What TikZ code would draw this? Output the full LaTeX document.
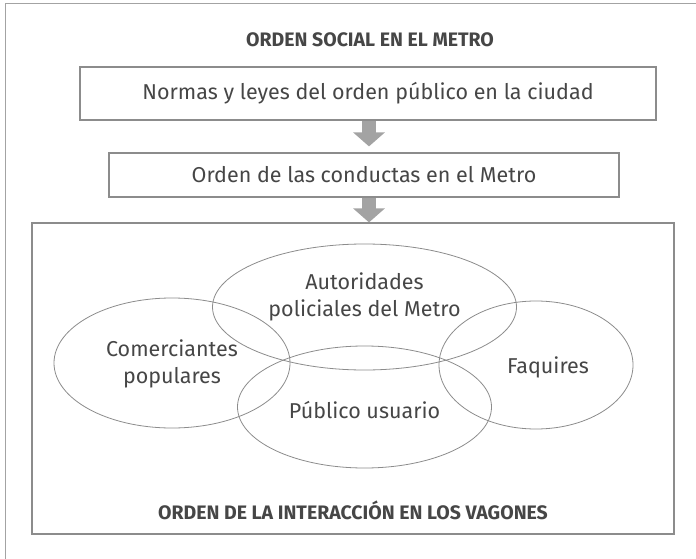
\documentclass[tikz,border=0pt]{standalone}
\usepackage{fontspec}
\setmainfont{Fira Sans}
\usetikzlibrary{arrows.meta}
\definecolor{txt}{HTML}{464646}
\definecolor{ln}{HTML}{8C8C8C}
\definecolor{arr}{HTML}{A3A3A3}
\begin{document}
\begin{tikzpicture}[x=1pt,y=-1pt,
  box/.style={draw=ln, line width=1.2pt, inner sep=0pt, text=txt, font=\fontsize{21.5}{26}\selectfont},
  ttl/.style={text=txt, font=\fontsize{19.5}{23}\selectfont\bfseries},
  lbl/.style={text=txt, align=center, font=\fontsize{21.5}{27}\selectfont},
  ell/.style={draw=ln, line width=0.8pt},
  blockarr/.style={draw=arr, line width=14pt, -{Triangle[width=31pt,length=14pt]}},
  frame/.style={draw=ln!80, line width=1pt}]
\useasboundingbox (0,0) rectangle (696,559);
\fill[white] (0,0) rectangle (696,559);
\draw[frame] (696,4) -- (5,4) -- (5,559);
\node[ttl] (title) at (370,40) {ORDEN SOCIAL EN EL METRO};
\node[box, minimum width=576pt, minimum height=53pt] (b1) at (368,93.5) {Normas y leyes del orden público en la ciudad};
\node[box, minimum width=510pt, minimum height=44pt] (b2) at (364,175) {Orden de las conductas en el Metro};
\node[box, minimum width=642pt, minimum height=311pt] (b3) at (353,378.5) {};
\coordinate (ax) at (369,0);
\draw[blockarr, shorten >=6pt] (b1.south -| ax) -- (b2.north -| ax);
\draw[blockarr] (b2.south -| ax) -- (b3.north -| ax);
\draw[ell] (364.5,307) ellipse [x radius=152, y radius=63];
\draw[ell] (172,363) ellipse [x radius=118, y radius=65];
\draw[ell] (536,365) ellipse [x radius=97, y radius=64];
\draw[ell] (364.5,407) ellipse [x radius=127, y radius=61];
\node[lbl] (aut) at (364.5,297) {Autoridades\\policiales del Metro};
\node[lbl] (com) at (172,364) {Comerciantes\\populares};
\node[lbl] (faq) at (548,367) {Faquires};
\node[lbl] (pub) at (364.5,410) {Público usuario};
\node[ttl] (bot) at (353,510) {ORDEN DE LA INTERACCIÓN EN LOS VAGONES};
\end{tikzpicture}
\end{document}
